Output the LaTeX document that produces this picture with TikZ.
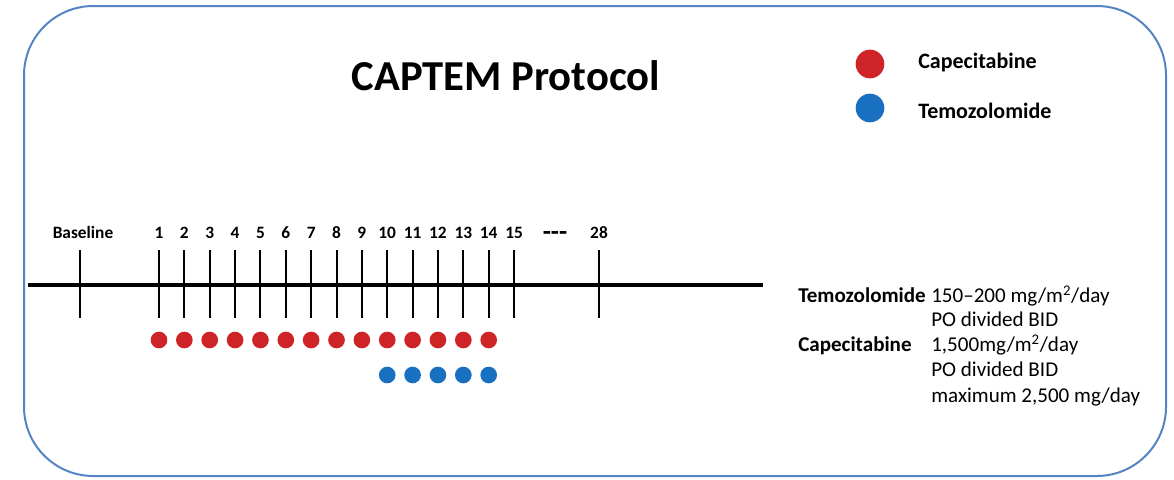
\documentclass[tikz,border=0pt]{standalone}
\usepackage{fontspec}
\setmainfont{Carlito}
\definecolor{frameblue}{RGB}{84,132,196}
\definecolor{capred}{RGB}{206,36,40}
\definecolor{temblue}{RGB}{26,112,192}
\begin{document}
\begin{tikzpicture}[x=0.75pt,y=-0.75pt,
  tick/.style={line width=1.5pt,black},
  axis/.style={line width=3pt,black},
  daylbl/.style={font=\fontsize{13}{15}\selectfont\bfseries,anchor=base},
  reddot/.style={circle,fill=capred,inner sep=0pt,minimum size=12.5pt},
  bluedot/.style={circle,fill=temblue,inner sep=0pt,minimum size=12.5pt},
  legdot/.style={circle,inner sep=0pt,minimum size=21.5pt},
  legtxt/.style={font=\fontsize{16.5}{19}\selectfont\bfseries,anchor=base west,inner sep=0pt},
  dosebold/.style={font=\fontsize{15.8}{18}\selectfont\bfseries,anchor=base west,inner sep=0pt},
  dosetxt/.style={font=\fontsize{15.8}{18}\selectfont,anchor=base west,inner sep=0pt}]
\useasboundingbox (0,0) rectangle (1174,479);
\draw[frameblue,line width=1.5pt,rounded corners=52pt] (24,6) rectangle (1166,476);
% title
\node[font=\fontsize{32}{36}\selectfont\bfseries,anchor=base] (title) at (506,90) {CAPTEM Protocol};
% legend
\node[legdot,fill=capred] (legcap) at (870,64) {};
\node[legdot,fill=temblue] (legtem) at (870,108) {};
\node[legtxt] (legcaptxt) at (918,68) {Capecitabine};
\node[legtxt] (legtemtxt) at (918,118) {Temozolomide};
% axis
\coordinate (axL) at (28,285);
\coordinate (axR) at (763,285);
\draw[axis] (axL) -- (axR);
% baseline tick
\coordinate (tb0) at (80,250);
\coordinate (tb1) at (80,318);
\draw[tick] (tb0) -- (tb1);
\node[daylbl] (lblbase) at (83,238) {Baseline};
% day ticks
\foreach \d in {1,...,15}{
  \pgfmathsetmacro{\xx}{159+(\d-1)*25.36}
  \coordinate (t\d a) at (\xx,250);
  \coordinate (t\d b) at (\xx,318);
  \draw[tick] (t\d a) -- (t\d b);
  \node[daylbl] (lbl\d) at (\xx,238) {\d};
}
\coordinate (t28a) at (599,250);
\coordinate (t28b) at (599,318);
\draw[tick] (t28a) -- (t28b);
\node[daylbl] (lbl28) at (599,238) {28};
\node[daylbl,font=\fontsize{20}{22}\selectfont\bfseries] (lbldots) at (555,240) {-{}-{}-};
% dose dots
\foreach \d in {1,...,14}{
  \pgfmathsetmacro{\xx}{159+(\d-1)*25.36}
  \node[reddot] (cap\d) at (\xx,340) {};
}
\foreach \d in {10,...,14}{
  \pgfmathsetmacro{\xx}{159+(\d-1)*25.36}
  \node[bluedot] (tem\d) at (\xx,375) {};
}
% dosing text
\node[dosebold] (dtem) at (798,302) {Temozolomide};
\node[dosetxt] (dtem1) at (931,302) {150--200 mg/m\textsuperscript{2}/day};
\node[dosetxt] (dtem2) at (931,326) {PO divided BID};
\node[dosebold] (dcap) at (798,351) {Capecitabine};
\node[dosetxt] (dcap1) at (931,351) {1,500mg/m\textsuperscript{2}/day};
\node[dosetxt] (dcap2) at (931,376) {PO divided BID};
\node[dosetxt] (dcap3) at (931,402) {maximum 2,500 mg/day};
\end{tikzpicture}
\end{document}
